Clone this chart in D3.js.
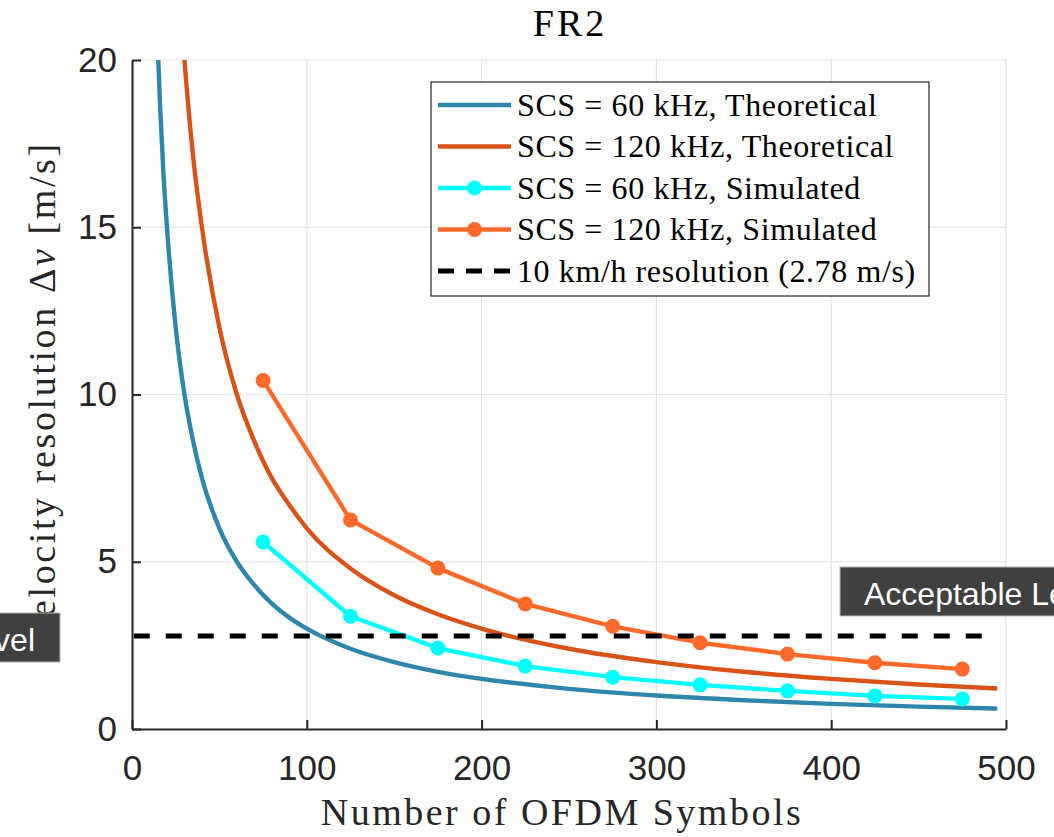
<!DOCTYPE html>
<html>
<head>
<meta charset="utf-8">
<script src="https://cdn.jsdelivr.net/npm/d3@7"></script>
<style>
  html, body { margin: 0; padding: 0; background: #fff; }
  svg { display: block; }
</style>
</head>
<body>
<div id="chart"></div>
<script>
// Values
const nTheory60 = [14, 16, 18, 20, 25, 30, 35, 40, 50, 60, 70, 80, 90, 100, 125, 150, 175, 200, 250, 300, 350, 400, 450, 495];
const theory60  = [21.4, 18.7, 16.6, 15.0, 12.0, 10.0, 8.6, 7.5, 6.0, 5.0, 4.3, 3.75, 3.33, 3.0, 2.4, 2.0, 1.71, 1.5, 1.2, 1.0, 0.86, 0.75, 0.67, 0.61];

const nTheory120 = [28, 30, 35, 40, 50, 60, 70, 80, 90, 100, 125, 150, 175, 200, 250, 300, 350, 400, 450, 495];
const theory120  = [21.4, 20.0, 17.1, 15.0, 12.0, 10.0, 8.6, 7.5, 6.7, 6.0, 4.8, 4.0, 3.43, 3.0, 2.4, 2.0, 1.71, 1.5, 1.33, 1.21];

const nSim   = [75, 125, 175, 225, 275, 325, 375, 425, 475];
const sim60  = [5.59, 3.37, 2.42, 1.88, 1.55, 1.32, 1.14, 0.99, 0.90];
const sim120 = [10.42, 6.25, 4.81, 3.74, 3.07, 2.58, 2.24, 1.98, 1.79];

const threshold = 2.78;
const thresholdRange = [1, 490];

const xTicks = [0, 100, 200, 300, 400, 500];
const yTicks = [0, 5, 10, 15, 20];

const legendLabels = [
  'SCS = 60 kHz, Theoretical',
  'SCS = 120 kHz, Theoretical',
  'SCS = 60 kHz, Simulated',
  'SCS = 120 kHz, Simulated',
  '10 km/h resolution (2.78 m/s)'
];

const COLORS = {
  theo60:  '#2e86ab',
  theo120: '#d95319',
  sim60:   '#00ffff',
  sim120:  '#ff6a2a',
  axis:    '#262626',
  grid:    '#e3e3e3'
};

const W = 1054, H = 837;
const M = { left: 132, right: 1006, top: 60, bottom: 729 };
const SERIF = '"Liberation Serif", "Times New Roman", serif';
const SANS = '"Liberation Sans", Arial, Helvetica, sans-serif';

const svg = d3.select('#chart').append('svg')
  .attr('width', W)
  .attr('height', H);

const x = d3.scaleLinear().domain([0, 500]).range([M.left, M.right]);
const y = d3.scaleLinear().domain([0, 20]).range([M.bottom, M.top]);

// Grid
svg.append('g').selectAll('line.vg')
  .data(xTicks.slice(1))
  .enter().append('line')
    .attr('x1', d => x(d)).attr('x2', d => x(d))
    .attr('y1', M.top).attr('y2', M.bottom)
    .style('stroke', COLORS.grid).style('stroke-width', 1.2);
svg.append('g').selectAll('line.hg')
  .data(yTicks.slice(1))
  .enter().append('line')
    .attr('x1', M.left).attr('x2', M.right)
    .attr('y1', d => y(d)).attr('y2', d => y(d))
    .style('stroke', COLORS.grid).style('stroke-width', 1.2);

// Clip to the plot box
svg.append('clipPath').attr('id', 'plotclip')
  .append('rect')
    .attr('x', M.left).attr('y', M.top)
    .attr('width', M.right - M.left).attr('height', M.bottom - M.top);

const plot = svg.append('g').attr('clip-path', 'url(#plotclip)');

const line = d3.line()
  .x(d => x(d[0]))
  .y(d => y(d[1]))
  .curve(d3.curveMonotoneX);

const series = [
  { n: nTheory60,  v: theory60,  color: COLORS.theo60,  markers: false },
  { n: nTheory120, v: theory120, color: COLORS.theo120, markers: false },
  { n: nSim,       v: sim60,     color: COLORS.sim60,   markers: true },
  { n: nSim,       v: sim120,    color: COLORS.sim120,  markers: true }
];

for (let s of series) {
  let pts = s.n.map((n, i) => [n, s.v[i]]);
  plot.append('path')
    .datum(pts)
    .attr('d', s.markers ? d3.line().x(d => x(d[0])).y(d => y(d[1])) : line)
    .style('fill', 'none')
    .style('stroke', s.color)
    .style('stroke-width', 4.4)
    .style('stroke-linejoin', 'round');

  if (s.markers) {
    plot.selectAll(null)
        .data(pts)
      .enter().append('circle')
        .attr('cx', d => x(d[0]))
        .attr('cy', d => y(d[1]))
        .attr('r', 7.5)
        .style('fill', s.color);
  }
}

// 10 km/h threshold
plot.append('line')
  .attr('x1', x(thresholdRange[0])).attr('x2', x(thresholdRange[1]))
  .attr('y1', y(threshold)).attr('y2', y(threshold))
  .style('stroke', '#000')
  .style('stroke-width', 5)
  .style('stroke-dasharray', '16,16');

// Axes
let xAxis = svg.append('g')
  .attr('transform', `translate(0,${M.bottom})`)
  .call(d3.axisBottom(x).tickValues(xTicks).tickSizeInner(-9).tickSizeOuter(0).tickPadding(26));
let yAxis = svg.append('g')
  .attr('transform', `translate(${M.left},0)`)
  .call(d3.axisLeft(y).tickValues(yTicks).tickSizeInner(-9).tickSizeOuter(0).tickPadding(15));

for (let a of [xAxis, yAxis]) {
  a.select('.domain').style('stroke', COLORS.axis).style('stroke-width', 2);
  a.selectAll('.tick line').style('stroke', COLORS.axis).style('stroke-width', 2);
  a.selectAll('.tick text')
    .style('fill', COLORS.axis)
    .style('font-family', SANS)
    .style('font-size', '35px');
}

// Title and axis labels
svg.append('text')
  .text('FR2')
  .attr('x', 570).attr('y', 36)
  .attr('text-anchor', 'middle')
  .style('font-family', SERIF).style('font-size', '38px')
  .style('letter-spacing', '3px')
  .style('fill', '#000');

svg.append('text')
  .text('Number of OFDM Symbols')
  .attr('x', 562).attr('y', 825)
  .attr('text-anchor', 'middle')
  .style('font-family', SERIF).style('font-size', '38px')
  .style('letter-spacing', '2.5px')
  .style('fill', COLORS.axis);

let ylab = svg.append('text')
  .attr('transform', 'translate(55,392) rotate(-90)')
  .attr('text-anchor', 'middle')
  .style('font-family', SERIF).style('font-size', '38px')
  .style('letter-spacing', '2.6px')
  .style('fill', COLORS.axis);
ylab.append('tspan').text('Velocity resolution \u0394');
ylab.append('tspan').text('v').style('font-style', 'italic');
ylab.append('tspan').text(' [m/s]');

// Legend
const legend = svg.append('g');
legend.append('rect')
  .attr('x', 431).attr('y', 82)
  .attr('width', 498).attr('height', 214)
  .style('fill', '#fff')
  .style('stroke', COLORS.axis)
  .style('stroke-width', 1.2);

const legendStyles = [
  { color: COLORS.theo60,  marker: false, dash: null },
  { color: COLORS.theo120, marker: false, dash: null },
  { color: COLORS.sim60,   marker: true,  dash: null },
  { color: COLORS.sim120,  marker: true,  dash: null },
  { color: '#000',         marker: false, dash: '16,12' }
];

legendLabels.forEach((label, i) => {
  let cy = 105 + i * 41.5;
  let st = legendStyles[i];
  legend.append('line')
    .attr('x1', 438).attr('x2', 511)
    .attr('y1', cy).attr('y2', cy)
    .style('stroke', st.color)
    .style('stroke-width', st.dash ? 5 : 4.4)
    .style('stroke-dasharray', st.dash);
  if (st.marker) {
    legend.append('circle')
      .attr('cx', 474.5).attr('cy', cy).attr('r', 7.5)
      .style('fill', st.color);
  }
  legend.append('text')
    .text(label)
    .attr('x', 517).attr('y', cy)
    .attr('dy', '0.33em')
    .style('font-family', SERIF).style('font-size', '32px')
    .style('letter-spacing', '0.6px')
    .style('fill', '#000');
});

// "Acceptable Level" annotation boxes (partly off the figure, as in the original)
function annotation(xPos, yTop, anchor) {
  let g = svg.append('g');
  let t = g.append('text')
    .text('Acceptable Level')
    .attr('y', yTop + 38)
    .style('font-family', SANS).style('font-size', '32px')
    .style('fill', '#fff');
  let w = t.node().getComputedTextLength();
  let left = anchor === 'start' ? xPos : xPos - w - 49;
  t.attr('x', left + 24);
  g.insert('rect', 'text')
    .attr('x', left).attr('y', yTop)
    .attr('width', w + 49).attr('height', 49)
    .style('fill', '#404040')
    .style('stroke', '#b4b4b4')
    .style('stroke-width', 1);
}
annotation(840, 567, 'start');
annotation(60, 613, 'end');
</script>
</body>
</html>
